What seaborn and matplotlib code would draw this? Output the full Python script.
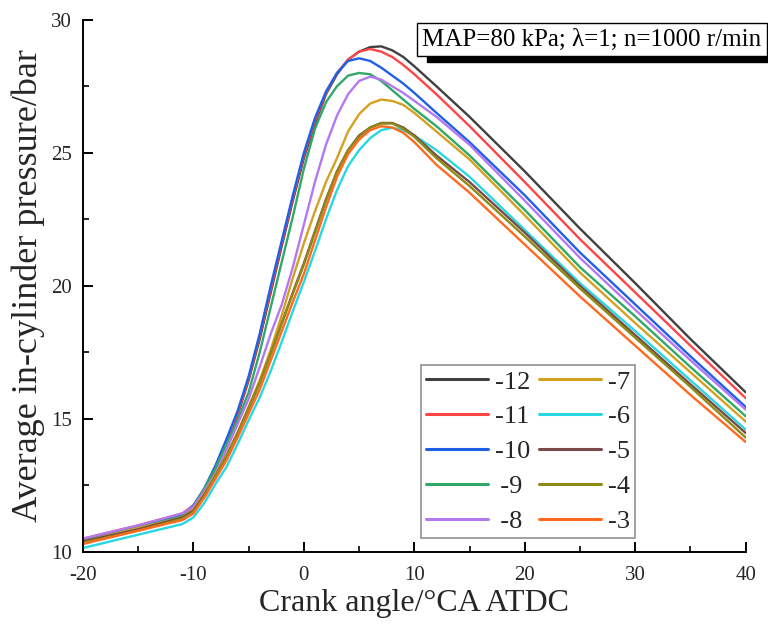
import numpy as np
import pandas as pd
import matplotlib
matplotlib.use("Agg")
import matplotlib.pyplot as plt
from matplotlib.patches import Rectangle
from matplotlib.ticker import MultipleLocator
import seaborn as sns

# Crank angle (°CA ATDC)
crank = [-20, -15, -11, -10, -9, -8, -7, -6, -5, -4, -3, -2, -1, 0, 1, 2, 3, 4, 5,
         6, 7, 8, 9, 10, 12, 15, 20, 25, 30, 35, 40]

# Average in-cylinder pressure (bar) for each ignition timing
p_m12 = [10.45, 10.95, 11.40, 11.70, 12.30, 13.15, 14.10, 15.15, 16.45, 18.00, 19.75, 21.50, 23.20, 24.80, 26.10, 27.20,
         27.95, 28.50, 28.80, 28.97, 29.00, 28.85, 28.60, 28.25, 27.50, 26.35, 24.30, 22.15, 20.10, 18.00, 16.00]
p_m11 = [10.50, 11.00, 11.45, 11.75, 12.35, 13.20, 14.20, 15.20, 16.50, 18.10, 19.85, 21.60, 23.30, 24.90, 26.20, 27.25,
         28.00, 28.50, 28.80, 28.90, 28.80, 28.60, 28.30, 27.95, 27.20, 26.00, 23.90, 21.75, 19.75, 17.75, 15.78]
p_m10 = [10.45, 10.95, 11.40, 11.75, 12.40, 13.25, 14.25, 15.30, 16.60, 18.20, 20.00, 21.70, 23.40, 25.00, 26.30, 27.30,
         28.00, 28.45, 28.55, 28.45, 28.20, 27.90, 27.60, 27.25, 26.50, 25.40, 23.40, 21.25, 19.30, 17.35, 15.45]
p_m9 = [10.40, 10.90, 11.35, 11.70, 12.40, 13.15, 14.05, 14.95, 16.00, 17.50, 19.20, 20.90, 22.60, 24.40, 25.90, 26.90,
        27.50, 27.90, 28.00, 27.95, 27.70, 27.35, 27.00, 26.65, 26.00, 24.90, 22.85, 20.70, 18.85, 16.95, 15.10]
p_m8 = [10.50, 11.00, 11.45, 11.70, 12.30, 12.95, 13.85, 14.80, 15.75, 16.95, 18.20, 19.30, 20.70, 22.30, 23.90, 25.30,
        26.40, 27.20, 27.70, 27.86, 27.75, 27.50, 27.25, 26.95, 26.35, 25.30, 23.20, 21.05, 19.10, 17.20, 15.35]
p_m7 = [10.40, 10.90, 11.30, 11.60, 12.20, 12.90, 13.65, 14.50, 15.45, 16.45, 17.60, 18.90, 20.30, 21.60, 22.80, 23.90,
        24.80, 25.80, 26.45, 26.85, 27.00, 26.95, 26.80, 26.50, 25.80, 24.75, 22.65, 20.50, 18.60, 16.75, 14.90]
p_m6 = [10.15, 10.65, 11.05, 11.30, 11.85, 12.55, 13.20, 14.05, 14.95, 15.80, 16.80, 17.90, 19.05, 20.15, 21.30, 22.50,
        23.60, 24.50, 25.10, 25.55, 25.85, 25.94, 25.85, 25.65, 25.10, 24.10, 22.10, 20.10, 18.30, 16.45, 14.60]
p_m5 = [10.40, 10.85, 11.30, 11.55, 12.15, 12.85, 13.60, 14.45, 15.40, 16.35, 17.45, 18.60, 19.75, 20.85, 22.05, 23.25,
        24.30, 25.10, 25.65, 25.95, 26.12, 26.12, 25.95, 25.65, 24.90, 23.90, 22.00, 20.00, 18.15, 16.30, 14.47]
p_m4 = [10.35, 10.80, 11.25, 11.50, 12.10, 12.85, 13.60, 14.45, 15.40, 16.35, 17.45, 18.60, 19.70, 20.80, 22.00, 23.20,
        24.30, 25.10, 25.60, 25.95, 26.10, 26.10, 25.90, 25.60, 24.80, 23.75, 21.85, 19.90, 18.05, 16.20, 14.30]
p_m3 = [10.30, 10.80, 11.20, 11.45, 12.05, 12.75, 13.45, 14.30, 15.20, 16.10, 17.20, 18.30, 19.40, 20.45, 21.70, 22.95,
        24.10, 24.95, 25.50, 25.85, 26.00, 25.95, 25.75, 25.40, 24.55, 23.50, 21.55, 19.60, 17.75, 15.90, 14.13]

timings = ["-12", "-11", "-10", "-9", "-8", "-7", "-6", "-5", "-4", "-3"]
series = [p_m12, p_m11, p_m10, p_m9, p_m8, p_m7, p_m6, p_m5, p_m4, p_m3]
colors = ["#404040", "#FF4545", "#2060E8", "#30A868", "#B478F0",
          "#D4A020", "#28D8E0", "#7A4A4A", "#8C8C14", "#FF6A20"]

rows = []
for t, vals in zip(timings, series):
    for c, v in zip(crank, vals):
        rows.append({"crank": c, "pressure": v, "timing": t})
df = pd.DataFrame(rows)

sns.set_style("ticks")
plt.rcParams["font.family"] = ["Liberation Serif", "DejaVu Serif"]
plt.rcParams["axes.unicode_minus"] = False

fig = plt.figure(figsize=(7.68, 6.24), dpi=100)
ax = fig.add_axes([0.108, 0.1154, 0.863, 0.853])

sns.lineplot(data=df, x="crank", y="pressure", hue="timing", hue_order=timings,
             palette=colors, linewidth=1.7, ax=ax, legend=True)

ax.set_xlim(-20, 40)
ax.set_ylim(10, 30)
ax.xaxis.set_major_locator(MultipleLocator(10))
ax.xaxis.set_minor_locator(MultipleLocator(5))
ax.yaxis.set_major_locator(MultipleLocator(5))
ax.yaxis.set_minor_locator(MultipleLocator(2.5))
ax.tick_params(which="major", direction="in", length=7, width=1.4, labelsize=15, color="black")
ax.tick_params(axis="x", which="major", pad=10)
ax.tick_params(axis="y", which="major", pad=8)
ax.tick_params(which="minor", direction="in", length=4, width=1.2, color="black")
for s in ["top", "right"]:
    ax.spines[s].set_visible(False)
for s in ["left", "bottom"]:
    ax.spines[s].set_linewidth(1.4)
    ax.spines[s].set_color("black")

ax.set_xlabel("Crank angle/°CA ATDC", fontsize=23, labelpad=3)
ax.set_ylabel("Average in-cylinder pressure/bar", fontsize=26, labelpad=4)

handles, labels = ax.get_legend_handles_labels()
labels = [("\u2009" + l if l in ("-9", "-8") else l) for l in labels]
leg = ax.legend(handles, labels, ncol=2, loc="lower left", bbox_to_anchor=(0.51, 0.026),
                fontsize=19, frameon=True, fancybox=False, edgecolor="#777777",
                handlelength=2.35, handletextpad=0.25, columnspacing=0.35,
                labelspacing=0.43, borderpad=0.2, borderaxespad=0.0)
leg.get_frame().set_linewidth(1.2)
for h in leg.get_lines():
    h.set_linewidth(2.2)

# annotation box with drop shadow
label = "MAP=80 kPa; λ=1; n=1000 r/min"
txt = ax.text(0.768, 0.962, label, transform=ax.transAxes, fontsize=18, ha="center", va="center",
              color="black", clip_on=False, zorder=10,
              bbox=dict(boxstyle="square,pad=0.22", fc="white", ec="black", lw=1.0))
fig.canvas.draw()
bb = txt.get_bbox_patch().get_window_extent()
W, H = fig.bbox.width, fig.bbox.height
shadow = Rectangle(((bb.x0 + 10) / W, (bb.y0 - 6) / H), bb.width / W, bb.height / H,
                   transform=fig.transFigure, fc="black", ec="black", zorder=9, clip_on=False)
ax.add_artist(shadow)
shadow.set_transform(fig.transFigure)

fig.savefig("out.png", dpi=100)
